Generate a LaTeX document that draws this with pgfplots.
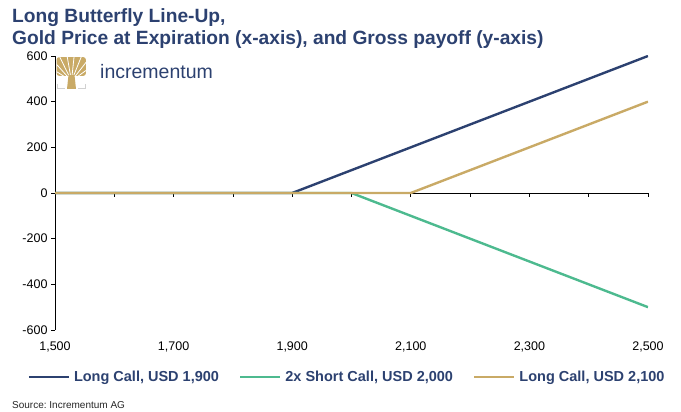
\documentclass[border=0pt]{standalone}
\usepackage{fontspec}
\setmainfont{Liberation Sans}
\usepackage{pgfplots}
\pgfplotsset{compat=1.18}
\definecolor{cnavy}{HTML}{2C4170}
\definecolor{cgreen}{HTML}{4DBA8F}
\definecolor{ctan}{HTML}{C9AA66}
\frenchspacing
\begin{document}
\begin{tikzpicture}[x=1pt,y=1pt]
\useasboundingbox (0,0) rectangle (681,412);
\node[anchor=base west, font=\fontsize{19.2}{22}\selectfont\bfseries, text=cnavy, inner sep=0] at (12,389) {Long Butterfly Line-Up,};
\node[anchor=base west, font=\fontsize{19.2}{22}\selectfont\bfseries, text=cnavy, inner sep=0] at (12,367) {Gold Price at Expiration (x-axis), and Gross payoff (y-axis)};
\node[anchor=base west, font=\fontsize{10}{12}\selectfont, text=black!85, inner sep=0] at (12,3) {Source: Incrementum AG};
\begin{axis}[
  at={(55pt,82pt)}, anchor=south west, scale only axis,
  width=593pt, height=274pt,
  xmin=1500, xmax=2500, ymin=-600, ymax=600,
  axis x line=middle, axis y line=left,
  axis line style={-, black, line width=0.8pt},
  hide obscured x ticks=false, hide obscured y ticks=false,
  xtick={1500,1700,...,2500},
  minor xtick={1600,1800,...,2400},
  xticklabels={1{,}500,1{,}700,1{,}900,2{,}100,2{,}300,2{,}500},
  ytick={-600,-400,...,600},
  yticklabels={-600,-400,-200,0,200,400,600},
  xticklabel shift=141pt,
  tick align=outside,
  major tick length=4pt, minor tick length=4pt,
  tick style={black, line width=0.8pt},
  tick label style={font=\fontsize{12.5}{14}\selectfont},
  legend style={at={(0.4925,-0.1715)}, anchor=center, draw=none, fill=none,
    font=\fontsize{14.5}{16}\selectfont\bfseries, text=cnavy,
    /tikz/every even column/.append style={column sep=18pt},
    /tikz/every odd column/.append style={column sep=2pt}},
  legend columns=3,
  legend image code/.code={\draw[#1] (0pt,0pt) -- (40pt,0pt);},
]
\addplot[cnavy, line width=2.4pt] coordinates {(1500,0) (1900,0) (2500,600)};
\addlegendentry{Long Call, USD 1,900}
\addplot[cgreen, line width=2.4pt] coordinates {(1500,0) (2000,0) (2500,-500)};
\addlegendentry{2x Short Call, USD 2,000}
\addplot[ctan, line width=2.4pt] coordinates {(1500,0) (2100,0) (2500,400)};
\addlegendentry{Long Call, USD 2,100}
\end{axis}
% logo
\begin{scope}
\clip[rounded corners=3pt] (56.5,336) rectangle (86,355);
\fill[ctan] (56,336) rectangle (86.5,355);
\foreach \a in {20,36,...,165} \draw[white, line width=0.8pt] (71.5,331) -- ++(\a:35);
\end{scope}
\fill[ctan] (67,323) -- (76,323) -- (74.5,337) -- (68.5,337) -- cycle;
\draw[black!18, line width=1.8pt] (57.5,328) -- (57.5,323.5) -- (65,323.5);
\draw[black!18, line width=1.8pt] (78,323.5) -- (85.5,323.5) -- (85.5,328);
\node[anchor=base west, font=\fontsize{19.5}{22}\selectfont, text=cnavy, inner sep=0] at (100,333) {incrementum};
\end{tikzpicture}
\end{document}
